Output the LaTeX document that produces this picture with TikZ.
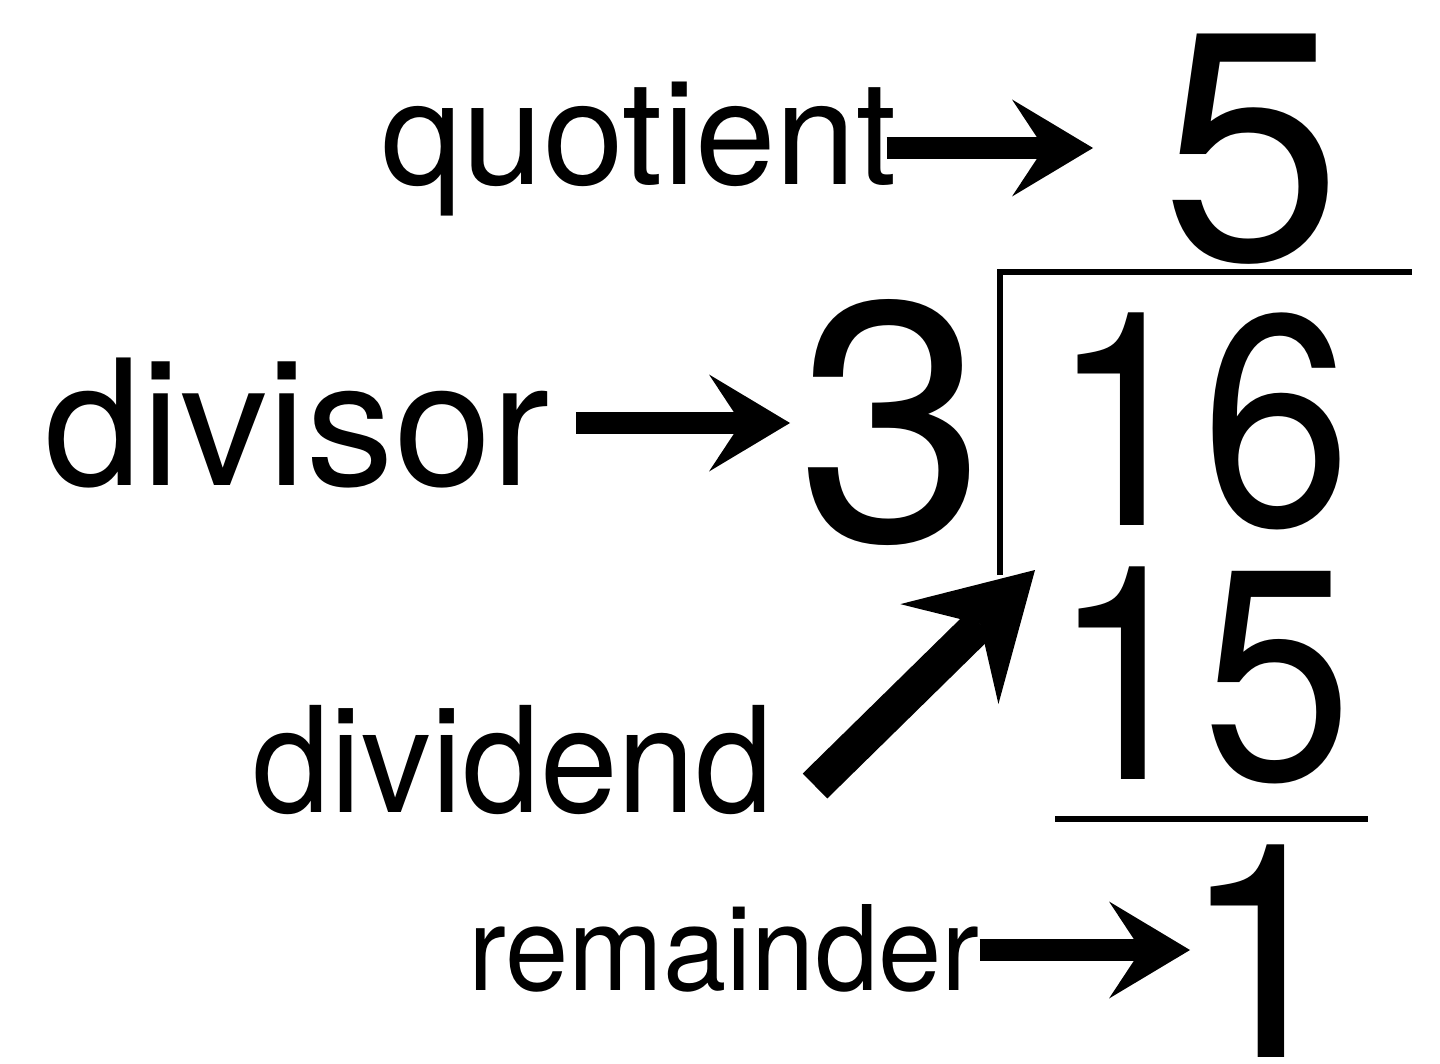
\documentclass[tikz,border=0pt]{standalone}
\usepackage{fontspec}
\setmainfont{TeX Gyre Heros}
\usetikzlibrary{arrows.meta}
\newcommand{\fs}[1]{\fontsize{#1}{#1}\selectfont}
\begin{document}
\begin{tikzpicture}[x=0.5pt,y=-0.5pt,
  txt/.style={anchor=base, inner sep=0pt, outer sep=0pt},
  harrow/.style={line width=11pt, -{Stealth[length=40.5pt,width=48.5pt,inset=16pt,line width=0pt]}},
  darrow/.style={line width=17.5pt, -{Stealth[length=60pt,width=70pt,inset=21.5pt,line width=0pt]}},
  rule/.style={line width=3pt}]
\useasboundingbox (0,0) rectangle (1440,1064);
% words
\node[txt, font=\fs{72.5}] (quot) at (639,185) {quotient};
\node[txt, font=\fs{87.5}] (divr) at (297,485) {divisor};
\node[txt, font=\fs{73.5}] (dvd) at (513,812) {\scalebox{0.95}[1]{dividend}};
\node[txt, font=\fs{59}] (rem) at (724,990) {\scalebox{0.965}[1]{remainder}};
% numbers
\node[txt, font=\fs{162.5}] (five) at (1252,260) {5};
\node[txt, font=\fs{170}] (three) at (892,540) {3};
\node[txt, font=\fs{150}] (sixteen) at (1201,525) {\scalebox{0.9}[1]{16}};
\node[txt, font=\fs{150}] (fifteen) at (1202,779) {\scalebox{0.9}[1]{15}};
\node[txt, font=\fs{150}] (one) at (1264,1057) {1};
% bracket and rule
\draw[rule, line width=2.75pt] (1000,575) -- (1000,272) -- (1412,272);
\draw[rule] (1055,819) -- (1368,819);
% arrow tips
\coordinate (qtip) at (1093,148);
\coordinate (dtip) at (790,423);
\coordinate (rtip) at (1190,950);
\coordinate (vtail) at (815,786);
\coordinate (vtip) at (1035,570);
% arrows
\draw[harrow] ([xshift=-5pt]quot.east |- qtip) -- (qtip);
\draw[harrow] ([xshift=13pt]divr.east |- dtip) -- (dtip);
\draw[harrow] (rem.east |- rtip) -- (rtip);
\draw[darrow] (vtail) -- (vtip);
\end{tikzpicture}
\end{document}
